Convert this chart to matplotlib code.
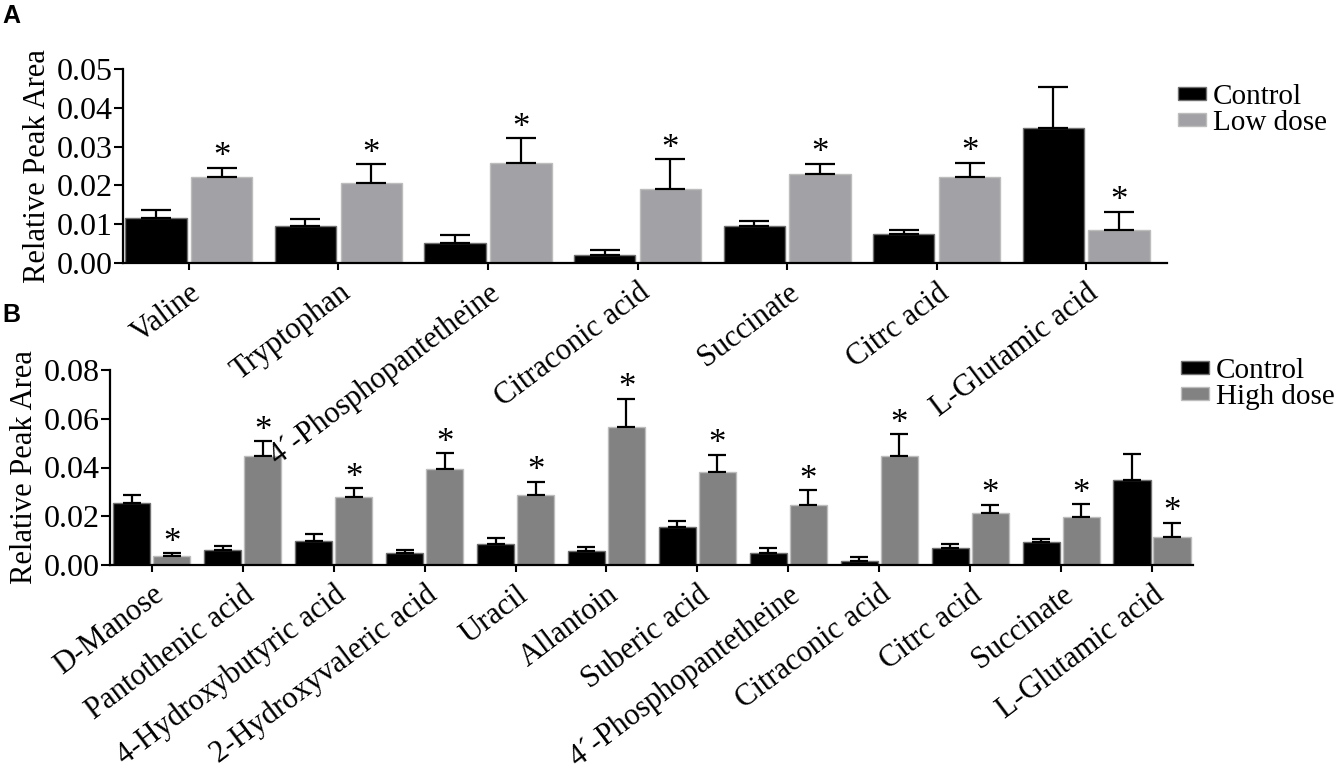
import numpy as np
import matplotlib
matplotlib.use("Agg")
import matplotlib.pyplot as plt

plt.rcParams['font.family'] = ['Liberation Serif', 'DejaVu Serif']

# ---- data ----
labels_a = ["Valine", "Tryptophan", "4\u00b4-Phosphopantetheine", "Citraconic acid",
            "Succinate", "Citrc acid", "L-Glutamic acid"]
ctrl_a = [0.0116, 0.0095, 0.0052, 0.0020, 0.0095, 0.0074, 0.0349]
ctrl_a_err = [0.0021, 0.0019, 0.0019, 0.0014, 0.0013, 0.0012, 0.0105]
low_a = [0.0222, 0.0207, 0.0257, 0.0190, 0.0230, 0.0222, 0.0086]
low_a_err = [0.0024, 0.0047, 0.0064, 0.0077, 0.0026, 0.0037, 0.0046]

labels_b = ["D-Manose", "Pantothenic acid", "4-Hydroxybutyric acid", "2-Hydroxyvaleric acid",
            "Uracil", "Allantoin", "Suberic acid", "4\u00b4-Phosphopantetheine",
            "Citraconic acid", "Citrc acid", "Succinate", "L-Glutamic acid"]
ctrl_b = [0.0253, 0.0060, 0.0099, 0.0050, 0.0085, 0.0058, 0.0156, 0.0049, 0.0018, 0.0069, 0.0094, 0.0347]
ctrl_b_err = [0.0036, 0.0018, 0.0030, 0.0013, 0.0025, 0.0014, 0.0026, 0.0022, 0.0014, 0.0017, 0.0013, 0.0110]
high_b = [0.0038, 0.0449, 0.0281, 0.0393, 0.0289, 0.0565, 0.0383, 0.0246, 0.0449, 0.0215, 0.0196, 0.0115]
high_b_err = [0.0011, 0.0059, 0.0033, 0.0065, 0.0053, 0.0118, 0.0070, 0.0062, 0.0087, 0.0032, 0.0053, 0.0059]


def panel(ax, labels, ctrl, ctrl_err, trt, trt_err, trt_color, trt_name,
          ymax, ystep, xlim, capsize):
    x = np.arange(len(labels))
    w = 0.41
    off = 0.22
    ax.bar(x - off, ctrl, w, color='black', edgecolor='#707070', linewidth=1,
           label='Control', zorder=2)
    ax.bar(x + off, trt, w, color=trt_color, edgecolor='#bdbdbd', linewidth=1,
           label=trt_name, zorder=2)
    ax.errorbar(x - off, ctrl, yerr=[np.zeros(len(x)), ctrl_err], fmt='none',
                ecolor='black', elinewidth=1.6, capsize=capsize, capthick=1.6, zorder=3)
    ax.errorbar(x + off, trt, yerr=[np.zeros(len(x)), trt_err], fmt='none',
                ecolor='black', elinewidth=1.6, capsize=capsize, capthick=1.6, zorder=3)
    # significance stars
    for xi, v, e in zip(x + off, trt, trt_err):
        ax.annotate('*', (xi, v + e), xytext=(0, 1), textcoords='offset points',
                    ha='center', va='baseline', fontsize=25)
    ax.set_xlim(*xlim)
    ax.set_ylim(0, ymax)
    ax.set_yticks(np.arange(0, ymax + ystep / 2, ystep))
    ax.yaxis.set_major_formatter(matplotlib.ticker.FormatStrFormatter('%.2f'))
    ax.set_xticks(x)
    ax.set_xticklabels(labels, rotation=37, ha='right', rotation_mode='anchor', fontsize=22)
    ax.tick_params(axis='y', labelsize=23, length=6.5, width=1.5, pad=1)
    ax.tick_params(axis='x', length=5, width=1.5, pad=6)
    for s in ['top', 'right']:
        ax.spines[s].set_visible(False)
    for s in ['left', 'bottom']:
        ax.spines[s].set_linewidth(1.6)
    ax.set_ylabel('Relative Peak Area', fontsize=22, labelpad=3,
                  family=['Liberation Serif', 'DejaVu Serif'])
    ax.set_facecolor('none')


fig = plt.figure(figsize=(13.42, 7.80), dpi=100)

ax_a = fig.add_axes([123 / 1342, 1 - 263 / 780, (1167 - 123) / 1342, (263 - 69) / 780])
panel(ax_a, labels_a, ctrl_a, ctrl_a_err, low_a, low_a_err, '#a2a2a6', 'Low dose',
      0.05, 0.01, (-0.44, 6.54), 11)

ax_b = fig.add_axes([110 / 1342, 1 - 565 / 780, (1193 - 110) / 1342, (565 - 370) / 780])
panel(ax_b, labels_b, ctrl_b, ctrl_b_err, high_b, high_b_err, '#828282', 'High dose',
      0.08, 0.02, (-0.46, 11.45), 6.5)
ax_a.set_zorder(2)

leg_kw = dict(loc='upper left', frameon=False, fontsize=21, handlelength=0.95,
              handleheight=0.35, handletextpad=0.25, labelspacing=0.0, borderpad=0,
              borderaxespad=0)
ax_a.legend(bbox_to_anchor=(1178 / 1342, 1 - 84 / 780), bbox_transform=fig.transFigure, **leg_kw)
ax_b.legend(bbox_to_anchor=(1181 / 1342, 1 - 358 / 780), bbox_transform=fig.transFigure, **leg_kw)

fig.text(2 / 1342, 1 - 4 / 780, 'A', fontsize=18, fontweight='bold',
         family='Liberation Sans', ha='left', va='top')
fig.text(2 / 1342, 1 - 303 / 780, 'B', fontsize=18, fontweight='bold',
         family='Liberation Sans', ha='left', va='top')

fig.savefig('out.png', dpi=100)
